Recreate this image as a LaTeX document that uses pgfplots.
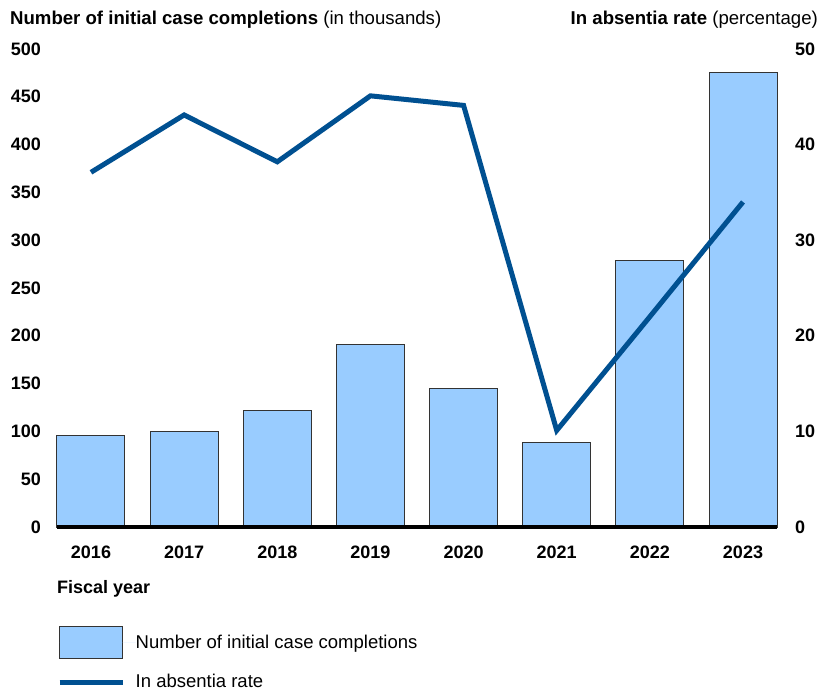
\documentclass[border=0pt]{standalone}
\usepackage{fontspec}
\setmainfont{Liberation Sans}
\usepackage{pgfplots}
\pgfplotsset{compat=1.18}
\definecolor{barblue}{RGB}{153,204,255}
\definecolor{lineblue}{RGB}{0,80,145}
\pgfplotsset{
  barlegend/.style={legend image code/.code={\draw[fill=barblue, draw=black!80, line width=1bp] (0bp,-16bp) rectangle (63bp,16bp); \path[draw=none] (0bp,0bp) -- (76bp,0bp);}},
  linelegend/.style={legend image code/.code={\draw[lineblue, line width=5bp] (0bp,0bp) -- (63bp,0bp); \path[draw=none] (0bp,0bp) -- (76bp,0bp);}},
}
\begin{document}
\fontsize{18bp}{21bp}\selectfont
\begin{tikzpicture}[x=1bp,y=1bp]
\useasboundingbox (-57,-165) rectangle (768,527);
\begin{axis}[
  at={(0,0)}, anchor=south west,
  scale only axis, width=720bp, height=478bp,
  xmin=-0.365, xmax=7.365, ymin=0, ymax=500,
  axis on top, clip=false,
  axis x line*=bottom, axis y line*=left,
  x axis line style={line width=4.5bp,-},
  y axis line style={draw=none},
  major tick length=0pt,
  ytick={0,50,...,500},
  xtick={0,...,7},
  xticklabels={2016,2017,2018,2019,2020,2021,2022,2023},
  /pgf/number format/assume math mode=true,
  ticklabel style={font=\fontsize{18bp}{21bp}\selectfont\bfseries},
  yticklabel style={anchor=east, inner sep=0pt, xshift=-16bp},
  xticklabel style={anchor=north, inner sep=0pt, yshift=-19bp},
  legend style={at={(axis description cs:0,-0.207)}, anchor=north west, draw=none,
    font=\fontsize{18.5bp}{21bp}\selectfont, row sep=15bp, inner sep=0pt,
    nodes={inner sep=0pt}},
  legend cell align=left,
]
\addplot[ybar, bar width=0.73, fill=barblue, draw=black!80, line width=1bp, barlegend]
  coordinates {(0,96) (1,100) (2,122) (3,191) (4,145) (5,88) (6,279) (7,475)};
\addlegendentry{Number of initial case completions}
\addlegendimage{linelegend}
\addlegendentry{In absentia rate}
\end{axis}
\begin{axis}[
  at={(0,0)}, anchor=south west,
  scale only axis, width=720bp, height=478bp,
  xmin=-0.365, xmax=7.365, ymin=0, ymax=50,
  axis x line=none, axis y line*=right,
  y axis line style={draw=none},
  major tick length=0pt,
  ytick={0,10,...,50},
  /pgf/number format/assume math mode=true,
  ticklabel style={font=\fontsize{18bp}{21bp}\selectfont\bfseries},
  yticklabel style={anchor=west, inner sep=0pt, xshift=18bp},
]
\addplot[lineblue, line width=5bp, line join=miter] coordinates {(0,37.1) (1,43.1) (2,38.2) (3,45.1) (4,44.1) (5,10.1) (6,22.0) (7,34.0)};
\end{axis}
\node[anchor=base west, inner sep=0pt, font=\fontsize{18.6bp}{21bp}\selectfont] at (-47,502) {\textbf{Number of initial case completions} (in thousands)};
\node[anchor=base east, inner sep=0pt, font=\fontsize{18.6bp}{21bp}\selectfont] at (761,502) {\textbf{In absentia rate} (percentage)};
\node[anchor=base west, inner sep=0pt] at (0,-67) {\textbf{Fiscal year}};
\end{tikzpicture}
\end{document}
